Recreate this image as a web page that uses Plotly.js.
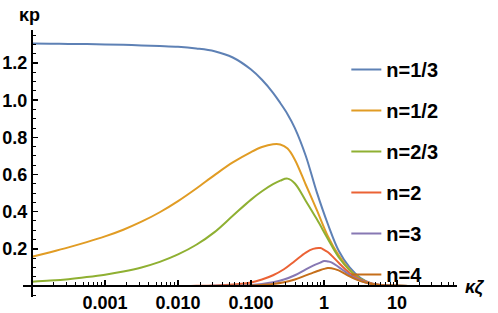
<!DOCTYPE html>
<html>
<head>
<meta charset="utf-8">
<script src="https://cdn.plot.ly/plotly-3.0.1.min.js"></script>
<style>html,body{margin:0;padding:0;background:#fff;}</style>
</head>
<body>
<div id="chart" style="width:498px;height:313px;"></div>
<script>
// ---- data (x = κζ, y = κp) ----
const seriesNames = ["n=1/3", "n=1/2", "n=2/3", "n=2", "n=3", "n=4"];
const seriesColors = ["#5E81B5", "#E19C24", "#8FB032", "#EB6235", "#8778B3", "#C56E1A"];

// κζ sample positions shared by the three upper curves
const x_upper = [0.0001, 0.000178, 0.000316, 0.000562, 0.001, 0.00178, 0.00316, 0.00562, 0.01, 0.0178,
                 0.0316, 0.0562, 0.1, 0.141, 0.2, 0.251, 0.316, 0.398, 0.562, 0.794,
                 1.122, 1.585, 2.239, 3.162, 4.467, 6.31, 10, 19.95, 66];
const y_n13 = [1.305, 1.304, 1.303, 1.302, 1.300, 1.298, 1.295, 1.292, 1.288, 1.279,
               1.264, 1.230, 1.165, 1.110, 1.040, 0.985, 0.925, 0.850, 0.700, 0.505,
               0.335, 0.190, 0.100, 0.043, 0.014, 0.005, 0.001, 0.0001, 0];
const y_n12 = [0.157, 0.182, 0.208, 0.236, 0.267, 0.303, 0.346, 0.397, 0.457, 0.525,
               0.597, 0.665, 0.721, 0.748, 0.763, 0.762, 0.740, 0.680, 0.545, 0.410,
               0.270, 0.165, 0.088, 0.037, 0.013, 0.004, 0.001, 0.0001, 0];
const y_n23 = [0.023, 0.029, 0.037, 0.048, 0.061, 0.078, 0.100, 0.130, 0.170, 0.222,
               0.290, 0.378, 0.465, 0.510, 0.548, 0.567, 0.578, 0.552, 0.458, 0.360,
               0.255, 0.155, 0.085, 0.037, 0.013, 0.004, 0.001, 0.0001, 0];

const x_lower = [0.0001, 0.01, 0.0178, 0.0316, 0.0562, 0.1, 0.141, 0.2, 0.282, 0.398,
                 0.562, 0.708, 0.891, 1.0, 1.122, 1.259, 1.585, 2.239, 3.162, 4.467,
                 6.31, 10, 19.95, 66];
const y_n2 = [0, 0.0003, 0.001, 0.003, 0.008, 0.019, 0.035, 0.058, 0.090, 0.135,
              0.180, 0.200, 0.204, 0.195, 0.183, 0.165, 0.125, 0.070, 0.033, 0.014,
              0.005, 0.0012, 0.0001, 0];
const y_n3 = [0, 0, 0.0003, 0.0008, 0.002, 0.006, 0.011, 0.020, 0.035, 0.058,
              0.090, 0.110, 0.126, 0.134, 0.132, 0.127, 0.102, 0.060, 0.028, 0.011,
              0.004, 0.001, 0.0001, 0];
const y_n4 = [0, 0, 0, 0.0003, 0.001, 0.003, 0.006, 0.011, 0.020, 0.035,
              0.057, 0.072, 0.086, 0.092, 0.097, 0.096, 0.084, 0.052, 0.026, 0.011,
              0.004, 0.0012, 0.0001, 0];

const xTickVals = [0.001, 0.01, 0.1, 1, 10];
const xTickText = ["0.001", "0.010", "0.100", "1", "10"];
const yTickVals = [0.2, 0.4, 0.6, 0.8, 1.0, 1.2];
const yTickText = ["0.2", "0.4", "0.6", "0.8", "1.0", "1.2"];

// ---- build the figure ----
const xs = [x_upper, x_upper, x_upper, x_lower, x_lower, x_lower];
const ys = [y_n13, y_n12, y_n23, y_n2, y_n3, y_n4];

const traces = seriesNames.map((name, i) => ({
  type: "scatter",
  mode: "lines",
  name: name,
  legendgroup: "g" + i,
  x: xs[i],
  y: ys[i],
  line: {color: seriesColors[i], width: 2, shape: "spline", smoothing: 1},
  hoverinfo: "skip"
}));

// minor ticks on the log axis: 2..9 of each decade
const xMinor = [];
for (let e = -4; e <= 1; e++) {
  for (let m = 2; m <= 9; m++) xMinor.push(m * Math.pow(10, e));
}
const yMinor = [];
for (let k = -1; k <= 27; k++) yMinor.push(Math.round(k * 5) / 100);

const xRange = [-4.123, 1.82];
const yRange = [-0.0592, 1.378];
const x0frac = (-4 - xRange[0]) / (xRange[1] - xRange[0]);
const y0frac = (0 - yRange[0]) / (yRange[1] - yRange[0]);

const FAM = "Liberation Sans";
const tickFont = {family: FAM, size: 18, color: "#000", weight: 700};

const layout = {
  width: 498,
  height: 313,
  margin: {l: 23, r: 41, t: 30, b: 16, pad: 0},
  paper_bgcolor: "#fff",
  plot_bgcolor: "#fff",
  showlegend: true,
  legend: {
    x: 0.745, y: 0.925, xanchor: "left", yanchor: "top",
    font: {family: FAM, size: 20, color: "#000", weight: 700},
    bgcolor: "rgba(0,0,0,0)",
    tracegroupgap: 12,
    traceorder: "grouped"
  },
  xaxis: {
    type: "log",
    range: xRange,
    anchor: "free",
    position: y0frac,
    showline: true, linecolor: "#000", linewidth: 2,
    showgrid: false, zeroline: false,
    tickmode: "array", tickvals: xTickVals, ticktext: xTickText,
    ticks: "inside", ticklen: 5, tickwidth: 1.5, tickcolor: "#000",
    tickfont: tickFont,
    minor: {tickmode: "array", tickvals: xMinor, ticks: "inside", ticklen: 3, tickwidth: 1, tickcolor: "#000", showgrid: false}
  },
  yaxis: {
    range: yRange,
    anchor: "free",
    position: x0frac,
    showline: true, linecolor: "#000", linewidth: 2,
    showgrid: false, zeroline: false,
    tickmode: "array", tickvals: yTickVals, ticktext: yTickText,
    ticks: "inside", ticklen: 5, tickwidth: 1.5, tickcolor: "#000",
    tickfont: tickFont,
    minor: {tickmode: "array", tickvals: yMinor, ticks: "inside", ticklen: 3, tickwidth: 1, tickcolor: "#000", showgrid: false}
  },
  annotations: [
    {xref: "paper", yref: "paper", x: 0.016, y: 1.056, xanchor: "center", yanchor: "middle",
     text: "κp", showarrow: false,
     font: {family: FAM, size: 18, color: "#000", weight: 700}},
    {xref: "paper", yref: "paper", x: 1.041, y: 0.034, xanchor: "center", yanchor: "middle",
     text: "κζ", showarrow: false,
     font: {family: FAM, size: 18, color: "#000", weight: 700, style: "italic"}}
  ]
};

Plotly.newPlot("chart", traces, layout, {displayModeBar: false, staticPlot: true});
</script>
</body>
</html>
